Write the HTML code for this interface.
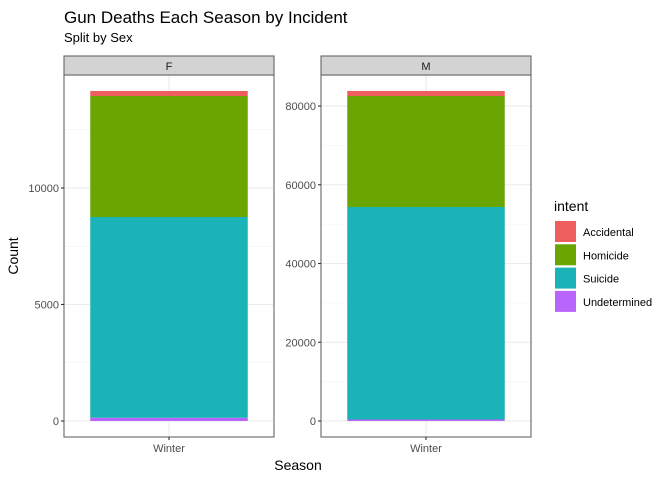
<!DOCTYPE html>
<html><head><meta charset="utf-8"><style>
body{margin:0;background:#fff;font-family:"Liberation Sans",sans-serif}
</style></head><body>
<svg id="c" width="672" height="480" xmlns="http://www.w3.org/2000/svg" font-family="Liberation Sans, sans-serif">
<rect width="672" height="480" fill="#fff"/>
<text x="64" y="23" font-size="17" fill="#000">Gun Deaths Each Season by Incident</text>
<text x="64" y="42" font-size="13" fill="#000">Split by Sex</text>
<text x="298" y="470" font-size="14" text-anchor="middle">Season</text>
<text x="0" y="0" font-size="14" text-anchor="middle" transform="translate(18,256) rotate(-90)">Count</text>
<g id="panels"></g>
<g>
<text x="554" y="211" font-size="14">intent</text>
<g id="leg"></g>
</g>
</svg>
<script>
const intents=["Undetermined","Suicide","Homicide","Accidental"];
const colors={"Accidental":"#EE5E5E","Homicide":"#6AA502","Suicide":"#1AB3B8","Undetermined":"#B865FB"};
const panelNames=["F","M"];
const femaleValues=[140,8615,5193,215];
const maleValues=[380,53970,28190,1270];
const femaleTicks=[0,5000,10000];
const maleTicks=[0,20000,40000,60000,80000];
const category="Winter";
const NS="http://www.w3.org/2000/svg";
function mk(t,a,p){const e=document.createElementNS(NS,t);for(const k in a)e.setAttribute(k,a[k]);p.appendChild(e);return e;}
const panelsG=document.getElementById('panels');
const cfg=[
 {x0:64,x1:274,vals:femaleValues,ticks:femaleTicks,ppu:233/10000,minor:[2500,7500,12500]},
 {x0:321,x1:531,vals:maleValues,ticks:maleTicks,ppu:315/80000,minor:[10000,30000,50000,70000]}];
const plotTop=75,plotBot=437,zeroY=421;
cfg.forEach((c,i)=>{
 const y=v=>zeroY-v*c.ppu;
 const g=mk('g',{},panelsG);
 
 
 const w=c.x1-c.x0, cx=c.x0+w/2;
 c.minor.forEach(v=>{const l=mk('line',{x1:c.x0,x2:c.x1,y1:y(v),y2:y(v),stroke:'#f0f0f0','stroke-width':0.6},g);});
 c.ticks.forEach(v=>{const l=mk('line',{x1:c.x0,x2:c.x1,y1:y(v),y2:y(v),stroke:'#ebebeb','stroke-width':1.1},g);});
 mk('line',{x1:cx,x2:cx,y1:plotTop,y2:plotBot,stroke:'#ebebeb','stroke-width':1.1},g);
 let cum=0;const bw=w*0.75;
 c.vals.forEach((v,k)=>{const r=mk('rect',{x:cx-bw/2,width:bw,y:y(cum+v),height:v*c.ppu,fill:colors[intents[k]]},g);
  
  cum+=v;});
 mk('rect',{x:c.x0,y:plotTop,width:w,height:plotBot-plotTop,fill:'none',stroke:'#666','stroke-width':1.1},g);
 const s=mk('rect',{x:c.x0,y:56,width:w,height:19,fill:'#d3d3d3',stroke:'#666','stroke-width':1.1},g);
 
 const st=mk('text',{x:cx,y:70,'font-size':11,'text-anchor':'middle',fill:'#1a1a1a'},g);st.textContent=panelNames[i];
 
 c.ticks.forEach(v=>{mk('line',{x1:c.x0-3,x2:c.x0,y1:y(v),y2:y(v),stroke:'#333','stroke-width':1.1},g);
  const t=mk('text',{x:c.x0-5,y:y(v)+4,'font-size':11,'text-anchor':'end',fill:'#4d4d4d'},g);t.textContent=v;
  });
 mk('line',{x1:cx,x2:cx,y1:plotBot,y2:plotBot+3,stroke:'#333','stroke-width':1.1},g);
 const xt=mk('text',{x:cx,y:452,'font-size':11,'text-anchor':'middle',fill:'#4d4d4d'},g);xt.textContent=category;
 
});
const leg=document.getElementById('leg');
["Accidental","Homicide","Suicide","Undetermined"].forEach((n,k)=>{
 const yy=221+k*23.3;
 const r=mk('rect',{x:555,y:yy,width:21,height:21,fill:colors[n]},leg);
 
 const t=mk('text',{x:583,y:yy+15,'font-size':11,fill:'#000'},leg);t.textContent=n;
 
});
</script>
</body></html>
